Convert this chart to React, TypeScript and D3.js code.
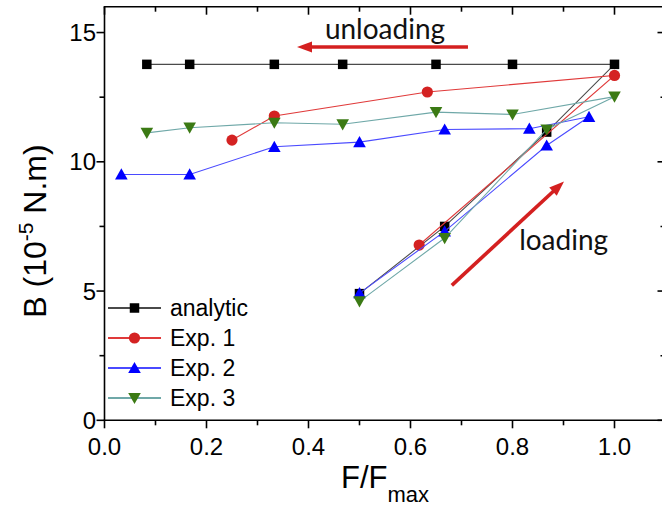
import React from "react";
import * as d3 from "d3";

const W = 662;
const H = 507;

const analyticX = [0.5, 0.667, 0.867, 1.0, 0.8, 0.65, 0.467, 0.333, 0.167, 0.083];
const analyticY = [4.9, 7.5, 11.15, 13.77, 13.77, 13.77, 13.77, 13.77, 13.77, 13.77];

const exp1X = [0.617, 1.0, 0.633, 0.333, 0.25];
const exp1Y = [6.78, 13.34, 12.7, 11.77, 10.84];

const exp2X = [0.5, 0.667, 0.867, 0.95, 0.833, 0.667, 0.5, 0.333, 0.167, 0.033];
const exp2Y = [4.92, 7.31, 10.63, 11.74, 11.28, 11.25, 10.76, 10.58, 9.51, 9.51];

const exp3X = [0.5, 0.667, 0.867, 1.0, 0.8, 0.65, 0.467, 0.333, 0.167, 0.083];
const exp3Y = [4.6, 7.05, 11.25, 12.52, 11.83, 11.92, 11.45, 11.51, 11.32, 11.12];

const seriesNames = ["analytic", "Exp. 1", "Exp. 2", "Exp. 3"];
const xMajorTicks = [0, 0.2, 0.4, 0.6, 0.8, 1.0];
const xMinorTicks = [0.1, 0.3, 0.5, 0.7, 0.9];
const yMajorTicks = [0, 5, 10, 15];
const yMinorTicks = [2.5, 7.5, 12.5];

const left = 104.5;
const right = 665.5;
const top = 6.7;
const bottom = 420.3;

const x = d3.scaleLinear().domain([0, 1.1]).range([left, right]);
const y = d3.scaleLinear().domain([0, 16]).range([bottom, top]);

type Marker = "square" | "circle" | "up" | "down";

const series = [
  { name: seriesNames[0], xs: analyticX, ys: analyticY, line: "#4a4a4a", fill: "#000000", marker: "square" as Marker },
  { name: seriesNames[1], xs: exp1X, ys: exp1Y, line: "#e03a3a", fill: "#d42222", marker: "circle" as Marker },
  { name: seriesNames[2], xs: exp2X, ys: exp2Y, line: "#4a4aff", fill: "#0000ff", marker: "up" as Marker },
  { name: seriesNames[3], xs: exp3X, ys: exp3Y, line: "#6fa8a8", fill: "#3b7a14", marker: "down" as Marker },
];

function markerEl(m: Marker, cx: number, cy: number, fill: string, key: string) {
  if (m === "square") {
    const s = 9.5;
    return <rect key={key} x={cx - s / 2} y={cy - s / 2} width={s} height={s} fill={fill} />;
  }
  if (m === "circle") {
    return <circle key={key} cx={cx} cy={cy} r={5.6} fill={fill} />;
  }
  const hw = 6.3;
  const hh = 5.6;
  if (m === "up") {
    return <path key={key} d={`M${cx},${cy - hh - 0.5}L${cx + hw},${cy + hh - 0.5}L${cx - hw},${cy + hh - 0.5}Z`} fill={fill} />;
  }
  return <path key={key} d={`M${cx},${cy + hh + 0.5}L${cx + hw},${cy - hh + 0.5}L${cx - hw},${cy - hh + 0.5}Z`} fill={fill} />;
}

function arrow(x1: number, y1: number, x2: number, y2: number, color: string, key: string) {
  const dx = x2 - x1;
  const dy = y2 - y1;
  const len = Math.sqrt(dx * dx + dy * dy);
  const ux = dx / len;
  const uy = dy / len;
  const hl = 15;
  const hw = 5.5;
  const bx = x2 - ux * hl;
  const by = y2 - uy * hl;
  const px = -uy;
  const py = ux;
  return (
    <g key={key}>
      <line x1={x1} y1={y1} x2={bx + ux * 2} y2={by + uy * 2} stroke={color} strokeWidth={3.6} />
      <path d={`M${x2},${y2}L${bx + px * hw},${by + py * hw}L${bx - px * hw},${by - py * hw}Z`} fill={color} />
    </g>
  );
}

export default function App() {
  const line = d3
    .line<[number, number]>()
    .x((d) => x(d[0]))
    .y((d) => y(d[1]));

  const tickFont = "'Liberation Sans', Arial, sans-serif";
  const annFont = "Lato, 'Open Sans', sans-serif";

  const legendY = [308, 338, 368, 398];

  return (
    <svg width={W} height={H} style={{ position: "absolute", left: 0, top: 0, background: "#fff" }}>
      <rect x={0} y={0} width={W} height={H} fill="#fff" />
      {/* data */}
      {series.map((s, i) => {
        const pts: [number, number][] = s.xs.map((v, j) => [v, s.ys[j]]);
        return (
          <g key={"s" + i}>
            <path d={line(pts) || ""} fill="none" stroke={s.line} strokeWidth={1.1} />
            {pts.map((p, j) => markerEl(s.marker, x(p[0]), y(p[1]), s.fill, "m" + i + "_" + j))}
          </g>
        );
      })}

      {/* frame */}
      <g stroke="#000" strokeWidth={1.6} fill="none">
        <line x1={left} y1={top} x2={left} y2={bottom} />
        <line x1={left - 0.8} y1={bottom} x2={right} y2={bottom} />
        <line x1={left - 0.8} y1={top} x2={right} y2={top} />
        <line x1={right} y1={top} x2={right} y2={bottom} />
        {xMajorTicks.map((t) => (
          <g key={"xM" + t}>
            <line x1={x(t)} y1={bottom} x2={x(t)} y2={bottom + 8} />
            <line x1={x(t)} y1={top} x2={x(t)} y2={top + 8} />
          </g>
        ))}
        {xMinorTicks.map((t) => (
          <g key={"xm" + t}>
            <line x1={x(t)} y1={bottom} x2={x(t)} y2={bottom + 5} />
            <line x1={x(t)} y1={top} x2={x(t)} y2={top + 5} />
          </g>
        ))}
        {yMajorTicks.map((t) => (
          <g key={"yM" + t}>
            <line x1={left} y1={y(t)} x2={left - 8} y2={y(t)} />
            <line x1={right} y1={y(t)} x2={right - 8} y2={y(t)} />
          </g>
        ))}
        {yMinorTicks.map((t) => (
          <g key={"ym" + t}>
            <line x1={left} y1={y(t)} x2={left - 5} y2={y(t)} />
            <line x1={right} y1={y(t)} x2={right - 5} y2={y(t)} />
          </g>
        ))}
      </g>

      {/* tick labels */}
      <g fontFamily={tickFont} fontSize={24} fill="#000">
        {xMajorTicks.map((t) => (
          <text key={"xl" + t} x={x(t)} y={455} textAnchor="middle">
            {d3.format(".1f")(t)}
          </text>
        ))}
        {yMajorTicks.map((t) => (
          <text key={"yl" + t} x={96} y={y(t) + 8.5} textAnchor="end">
            {t}
          </text>
        ))}
      </g>

      {/* axis titles */}
      <text x={385} y={488} textAnchor="middle" fontFamily={tickFont} fontSize={31} fill="#000">
        F/F
        <tspan fontSize={22} dy={14}>
          max
        </tspan>
      </text>
      <text
        transform={`translate(46, 231) rotate(-90)`}
        textAnchor="middle"
        fontFamily={tickFont}
        fontSize={32}
        fill="#000"
      >
        B (10
        <tspan fontSize={21} dy={-13}>
          -5
        </tspan>
        <tspan dy={13}> N.m)</tspan>
      </text>

      {/* annotations */}
      {arrow(x(0.7127), y(14.44), x(0.3775), y(14.44), "#d42020", "a1")}
      {arrow(x(0.681), y(5.22), x(0.901), y(9.24), "#d42020", "a2")}
      <text x={x(0.55)} y={y(14.75)} textAnchor="middle" fontFamily={annFont} fontSize={28} fill="#111">
        unloading
      </text>
      <text x={x(0.813)} y={y(6.58)} fontFamily={annFont} fontSize={28} fill="#111">
        loading
      </text>

      {/* legend */}
      <g fontFamily={tickFont} fontSize={23} fill="#000">
        {series.map((s, i) => (
          <g key={"lg" + i}>
            <line x1={108} y1={legendY[i]} x2={161} y2={legendY[i]} stroke={s.line} strokeWidth={1.8} />
            {markerEl(s.marker, 134.5, legendY[i], s.fill, "lm" + i)}
            <text x={170} y={legendY[i] + 8}>
              {s.name}
            </text>
          </g>
        ))}
      </g>
    </svg>
  );
}
